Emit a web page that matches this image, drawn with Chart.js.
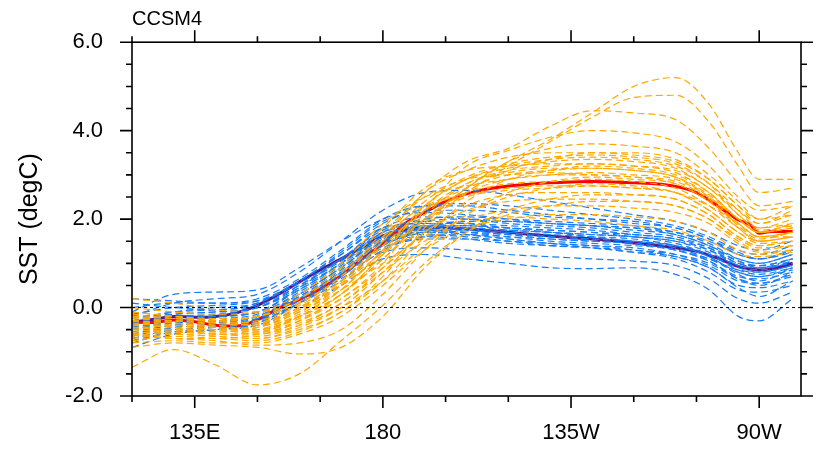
<!DOCTYPE html>
<html>
<head>
<meta charset="utf-8">
<script src="https://cdn.jsdelivr.net/npm/chart.js@4.4.1/dist/chart.umd.min.js"></script>
<style>
  html, body { margin: 0; padding: 0; background: #fff; }
</style>
</head>
<body>
<canvas id="sst" width="817" height="450"></canvas>
<script>
// longitudes in degrees east (120E .. 80W)
const lonGrid = [120,130,140,150,160,170,180,190,200,210,220,230,240,250,258,265,270,278];
const lonMean = [120,125,130,135,140,145,150,155,160,165,170,175,180,185,190,195,200,205,210,215,220,225,230,235,240,245,250,255,260,265,268,270,273,278];

// ensemble means
const redMean = [-0.33,-0.34,-0.28,-0.32,-0.40,-0.42,-0.28,-0.02,0.18,0.42,0.72,1.10,1.45,1.88,2.15,2.40,2.57,2.68,2.75,2.79,2.82,2.84,2.85,2.84,2.82,2.80,2.74,2.60,2.30,1.98,1.86,1.68,1.72,1.72];
const purpleMean = [-0.33,-0.27,-0.20,-0.22,-0.20,-0.12,0.05,0.30,0.58,0.85,1.10,1.36,1.62,1.76,1.80,1.80,1.78,1.74,1.70,1.66,1.62,1.58,1.55,1.51,1.46,1.41,1.35,1.27,1.12,0.93,0.87,0.85,0.88,1.00];

// orange members
const orangeMembers = [
  [-0.35,-0.45,-0.55,-0.45,-0.05,0.55,1.25,2.0,2.7,3.3,3.8,4.4,5.0,5.2,4.6,3.5,2.9,2.9],
  [-0.5,-0.4,-0.5,-0.5,-0.2,0.3,1.1,1.9,2.6,3.2,3.75,4.3,4.75,4.8,4.2,3.2,2.6,2.7],
  [-0.2,-0.3,-0.3,-0.2,0.1,0.7,1.6,2.6,3.3,3.6,4.1,4.45,4.4,4.25,3.6,2.8,2.3,2.4],
  [-0.6,-0.5,-0.6,-0.55,-0.3,0.2,1.0,2.2,3.2,3.55,3.85,4.0,3.95,3.75,3.2,2.5,2.2,2.3],
  [-0.3,-0.2,-0.35,-0.4,-0.1,0.5,1.5,2.6,3.1,3.4,3.5,3.5,3.45,3.3,2.9,2.3,1.9,2.1],
  [-0.4,-0.5,-0.5,-0.6,-0.3,0.3,1.2,2.3,2.9,3.2,3.35,3.4,3.35,3.2,2.8,2.2,1.8,1.9],
  [-0.1,-0.2,-0.3,-0.2,0.2,0.9,1.8,2.7,3.1,3.2,3.25,3.25,3.2,3.05,2.6,2.0,1.7,1.8],
  [-0.6,-0.7,-0.7,-0.6,-0.2,0.4,1.3,2.2,2.8,3.05,3.15,3.15,3.1,2.95,2.5,1.9,1.6,1.7],
  [-0.3,-0.4,-0.45,-0.5,-0.2,0.3,1.1,2.0,2.6,2.9,3.0,3.0,2.95,2.8,2.4,1.9,1.6,1.6],
  [-0.5,-0.4,-0.5,-0.4,0.0,0.6,1.4,2.2,2.6,2.8,2.85,2.9,2.85,2.7,2.3,1.8,1.5,1.6],
  [-0.2,-0.35,-0.4,-0.35,0.0,0.5,1.2,2.0,2.5,2.65,2.7,2.75,2.7,2.6,2.2,1.7,1.45,1.5],
  [-0.7,-0.6,-0.65,-0.7,-0.45,0.0,0.8,1.7,2.3,2.55,2.6,2.6,2.55,2.45,2.1,1.6,1.4,1.5],
  [-0.4,-0.3,-0.4,-0.5,-0.25,0.2,0.9,1.7,2.2,2.4,2.45,2.45,2.4,2.3,2.0,1.55,1.35,1.4],
  [-0.3,-0.45,-0.5,-0.45,-0.1,0.4,1.0,1.6,2.0,2.2,2.3,2.3,2.25,2.15,1.9,1.45,1.25,1.3],
  [-0.8,-0.75,-0.8,-0.8,-0.6,-0.2,0.5,1.3,1.8,2.0,2.1,2.1,2.05,1.95,1.7,1.3,1.2,1.3],
  [-0.5,-0.55,-0.6,-0.65,-0.4,0.1,0.8,1.5,1.9,2.05,2.0,1.95,1.85,1.75,1.5,1.2,1.15,1.25],
  [-1.35,-0.95,-1.3,-1.75,-1.5,-0.75,0.05,1.0,1.7,2.1,2.3,2.4,2.4,2.3,2.0,1.5,1.3,1.4],
  [-0.9,-0.8,-0.85,-0.9,-1.05,-0.9,-0.2,0.9,1.7,2.2,2.45,2.55,2.55,2.45,2.1,1.6,1.4,1.5],
  [-0.6,-0.7,-0.75,-0.85,-0.8,-0.5,0.3,1.3,2.1,2.6,2.85,2.95,2.9,2.8,2.4,1.8,1.5,1.6],
  [0.0,-0.1,-0.15,-0.1,0.3,1.0,1.9,2.5,2.75,2.9,3.0,3.05,3.0,2.9,2.5,2.0,1.7,1.8],
  [-0.25,-0.3,-0.35,-0.3,0.05,0.6,1.5,2.4,2.95,3.25,3.4,3.45,3.4,3.25,2.8,2.1,1.8,2.0],
  [-0.45,-0.5,-0.55,-0.5,-0.15,0.4,1.3,2.3,2.9,3.15,3.3,3.35,3.3,3.15,2.7,2.2,1.9,2.2],
  [0.2,0.1,-0.05,-0.1,0.2,0.8,1.6,2.3,2.55,2.7,2.75,2.75,2.7,2.6,2.3,1.9,1.6,1.7],
  [-0.15,-0.25,-0.3,-0.35,-0.05,0.5,1.4,2.2,2.7,3.0,3.1,3.15,3.1,2.95,2.55,2.0,1.7,1.9],
  [-0.55,-0.6,-0.65,-0.7,-0.5,-0.1,0.7,1.8,2.6,3.1,3.35,3.5,3.5,3.35,2.9,2.3,2.0,2.3],
  [-0.3,-0.35,-0.45,-0.55,-0.35,0.1,0.9,1.9,2.7,3.3,3.6,3.7,3.65,3.5,3.0,2.4,2.0,2.1],
  [-0.65,-0.55,-0.6,-0.6,-0.4,0.0,0.6,1.4,2.1,2.5,2.7,2.8,2.75,2.6,2.2,1.7,1.5,1.6],
  [-0.2,-0.25,-0.3,-0.4,-0.2,0.3,1.2,2.1,2.8,3.1,3.2,3.25,3.2,3.1,2.7,2.1,1.75,1.85],
  [-0.75,-0.65,-0.7,-0.75,-0.55,-0.1,0.6,1.6,2.4,2.9,3.1,3.2,3.15,3.0,2.6,2.0,1.7,1.9],
  [-0.1,-0.2,-0.25,-0.2,0.1,0.7,1.7,2.5,2.9,3.0,3.05,3.0,2.95,2.85,2.45,1.85,1.55,1.7]
];

// blue members
const blueMembers = [
  [-0.2,0.1,0.2,0.3,0.8,1.5,2.2,2.6,2.65,2.55,2.4,2.25,2.1,1.95,1.7,1.4,1.3,1.5],
  [-0.1,0.3,0.35,0.4,0.9,1.5,2.0,2.3,2.35,2.3,2.2,2.1,2.0,1.85,1.6,1.3,1.2,1.4],
  [-0.3,-0.1,0.0,0.1,0.6,1.2,1.9,2.2,2.2,2.15,2.05,2.0,1.95,1.8,1.55,1.2,1.1,1.3],
  [-0.5,-0.3,-0.2,-0.1,0.4,1.0,1.7,2.0,2.05,2.0,1.95,1.9,1.85,1.7,1.45,1.1,1.0,1.2],
  [-0.2,-0.15,-0.1,0.0,0.5,1.1,1.8,2.05,2.0,1.9,1.85,1.8,1.7,1.6,1.35,1.0,0.95,1.1],
  [-0.6,-0.4,-0.35,-0.2,0.3,0.9,1.6,1.9,1.9,1.85,1.8,1.75,1.65,1.55,1.35,1.05,0.9,1.0],
  [-0.4,-0.3,-0.25,-0.15,0.35,0.95,1.6,1.85,1.85,1.8,1.75,1.7,1.6,1.5,1.3,0.95,0.85,1.05],
  [-0.7,-0.5,-0.45,-0.3,0.2,0.8,1.5,1.8,1.8,1.75,1.7,1.65,1.6,1.45,1.2,0.9,0.8,0.95],
  [-0.3,-0.2,-0.2,-0.1,0.45,1.1,1.75,1.95,1.9,1.8,1.7,1.6,1.5,1.4,1.2,0.85,0.75,0.9],
  [-0.9,-0.6,-0.5,-0.4,0.1,0.7,1.4,1.7,1.75,1.7,1.65,1.6,1.55,1.4,1.15,0.8,0.7,0.85],
  [0.1,0.0,-0.05,0.1,0.6,1.2,1.8,1.9,1.8,1.7,1.6,1.55,1.5,1.35,1.1,0.8,0.7,0.9],
  [-0.5,-0.35,-0.3,-0.2,0.25,0.85,1.5,1.75,1.7,1.6,1.5,1.45,1.4,1.3,1.05,0.7,0.65,0.8],
  [-0.4,-0.25,-0.2,-0.1,0.3,0.9,1.55,1.7,1.65,1.55,1.45,1.4,1.35,1.2,0.95,0.6,0.55,0.7],
  [-0.8,-0.55,-0.5,-0.35,0.1,0.6,1.3,1.55,1.55,1.5,1.45,1.4,1.3,1.15,0.9,0.5,0.45,0.6],
  [-0.2,-0.3,-0.3,-0.2,0.2,0.8,1.45,1.6,1.55,1.45,1.4,1.35,1.25,1.1,0.8,0.4,0.35,0.5],
  [-0.6,-0.45,-0.4,-0.3,0.1,0.65,1.25,1.35,1.3,1.2,1.15,1.1,1.05,0.95,0.65,0.2,0.1,0.35],
  [-0.7,-0.5,-0.45,-0.4,0.0,0.5,1.1,1.2,1.1,1.0,0.9,0.88,0.9,0.75,0.4,-0.2,-0.3,0.2],
  [-0.35,-0.2,-0.15,0.0,0.4,1.0,1.65,1.8,1.75,1.65,1.55,1.5,1.45,1.3,1.05,0.65,0.5,0.8],
  [0.2,0.15,0.1,0.15,0.55,1.1,1.7,1.85,1.85,1.75,1.7,1.65,1.6,1.5,1.25,0.95,0.9,1.1],
  [-0.45,-0.3,-0.3,-0.2,0.3,0.9,1.55,1.8,1.85,1.8,1.75,1.7,1.65,1.55,1.3,1.0,0.9,1.05],
  [-0.55,-0.4,-0.35,-0.25,0.2,0.8,1.45,1.7,1.7,1.65,1.6,1.55,1.5,1.4,1.15,0.75,0.6,0.9],
  [-0.25,-0.1,-0.05,0.05,0.5,1.05,1.7,1.95,2.0,1.95,1.9,1.85,1.75,1.65,1.4,1.1,1.0,1.2],
  [-0.65,-0.45,-0.4,-0.25,0.2,0.75,1.4,1.8,1.95,1.95,1.9,1.85,1.8,1.65,1.4,1.05,0.95,1.1],
  [-0.15,0.0,0.05,0.15,0.6,1.25,1.95,2.15,2.1,2.0,1.9,1.85,1.8,1.7,1.5,1.2,1.1,1.25],
  [-0.45,-0.35,-0.3,-0.2,0.25,0.8,1.5,1.65,1.6,1.5,1.4,1.35,1.3,1.2,1.0,0.65,0.55,0.75],
  [-0.3,-0.15,-0.1,0.0,0.45,1.0,1.6,1.75,1.65,1.55,1.45,1.35,1.25,1.15,0.9,0.45,0.25,0.6],
  [-0.75,-0.55,-0.5,-0.35,0.15,0.7,1.35,1.6,1.65,1.6,1.55,1.5,1.45,1.3,1.1,0.85,0.8,0.95],
  [0.0,0.1,0.1,0.2,0.65,1.3,2.0,2.3,2.3,2.2,2.1,2.0,1.9,1.8,1.55,1.25,1.1,1.3]
];

const xMajor = [135, 180, 225, 270];
const xLabels = ['135E', '180', '135W', '90W'];
const yMajor = [-2, 0, 2, 4, 6];

const ORANGE = 'rgb(255,168,0)';
const BLUE = 'rgb(24,124,245)';
const FONT = '"Liberation Sans", Arial, Helvetica, sans-serif';

function pts(xs, ys) {
  return ys.map((v, i) => ({ x: xs[i], y: v }));
}

const datasets = [];
orangeMembers.forEach(m => datasets.push({
  data: pts(lonGrid, m), borderColor: ORANGE, borderWidth: 1.2,
  borderDash: [7, 4], pointRadius: 0, cubicInterpolationMode: 'monotone'
}));
blueMembers.forEach(m => datasets.push({
  data: pts(lonGrid, m), borderColor: BLUE, borderWidth: 1.2,
  borderDash: [7, 4], pointRadius: 0, cubicInterpolationMode: 'monotone'
}));
datasets.push({ data: pts(lonMean, redMean), borderColor: '#ff0000', borderWidth: 3, pointRadius: 0, cubicInterpolationMode: 'monotone' });
datasets.push({ data: pts(lonMean, purpleMean), borderColor: '#511a8a', borderWidth: 3, pointRadius: 0, cubicInterpolationMode: 'monotone' });

// frame, minor/major ticks, zero line, title text
const framePlugin = {
  id: 'frame',
  afterDatasetsDraw(chart) {
    const { ctx, chartArea: a, scales: { x, y } } = chart;
    ctx.save();
    // dotted zero line
    const y0 = y.getPixelForValue(0);
    ctx.strokeStyle = '#000';
    ctx.lineWidth = 1;
    ctx.setLineDash([3, 3]);
    ctx.beginPath(); ctx.moveTo(a.left, y0); ctx.lineTo(a.right, y0); ctx.stroke();
    ctx.setLineDash([]);

    ctx.lineWidth = 1.6;
    ctx.strokeRect(a.left, a.top, a.right - a.left, a.bottom - a.top);
    ctx.beginPath();
    for (let lon = 120; lon <= 280; lon += 15) {
      const px = x.getPixelForValue(lon);
      const len = xMajor.includes(lon) ? 12 : 6;
      ctx.moveTo(px, a.bottom); ctx.lineTo(px, a.bottom + len);
      ctx.moveTo(px, a.top); ctx.lineTo(px, a.top - len);
    }
    for (let v = -2; v <= 6; v += 0.5) {
      const py = y.getPixelForValue(v);
      const len = yMajor.includes(v) ? 12 : 6;
      ctx.moveTo(a.left, py); ctx.lineTo(a.left - len, py);
      ctx.moveTo(a.right, py); ctx.lineTo(a.right + len, py);
    }
    ctx.stroke();

    ctx.fillStyle = '#000';
    ctx.font = '20px ' + FONT;
    ctx.textAlign = 'left';
    ctx.textBaseline = 'alphabetic';
    ctx.fillText('CCSM4', a.left, 25);

    ctx.translate(30, (a.top + a.bottom) / 2);
    ctx.rotate(-Math.PI / 2);
    ctx.font = '25px ' + FONT;
    ctx.textAlign = 'center';
    ctx.textBaseline = 'middle';
    ctx.fillText('SST (degC)', 0, 0);
    ctx.restore();
  }
};

new Chart(document.getElementById('sst'), {
  type: 'line',
  data: { datasets },
  options: {
    responsive: false,
    animation: false,
    devicePixelRatio: 1,
    layout: { padding: { left: 0, right: 16, top: 39, bottom: 0 } },
    plugins: { legend: { display: false }, tooltip: { enabled: false } },
    scales: {
      x: {
        type: 'linear', min: 120, max: 280,
        grid: { display: false, drawTicks: false },
        border: { display: false },
        afterBuildTicks: s => { s.ticks = xMajor.map(v => ({ value: v })); },
        afterFit: s => { s.height = 54; },
        ticks: {
          padding: 24, color: '#000', font: { family: FONT, size: 22 },
          maxRotation: 0, autoSkip: false,
          callback: v => xLabels[xMajor.indexOf(v)]
        }
      },
      y: {
        min: -2, max: 6,
        grid: { display: false, drawTicks: false },
        border: { display: false },
        afterBuildTicks: s => { s.ticks = yMajor.map(v => ({ value: v })); },
        afterFit: s => { s.width = 132; },
        ticks: {
          padding: 29, color: '#000', font: { family: FONT, size: 22 },
          callback: v => v.toFixed(1)
        }
      }
    }
  },
  plugins: [framePlugin]
});
</script>
</body>
</html>
